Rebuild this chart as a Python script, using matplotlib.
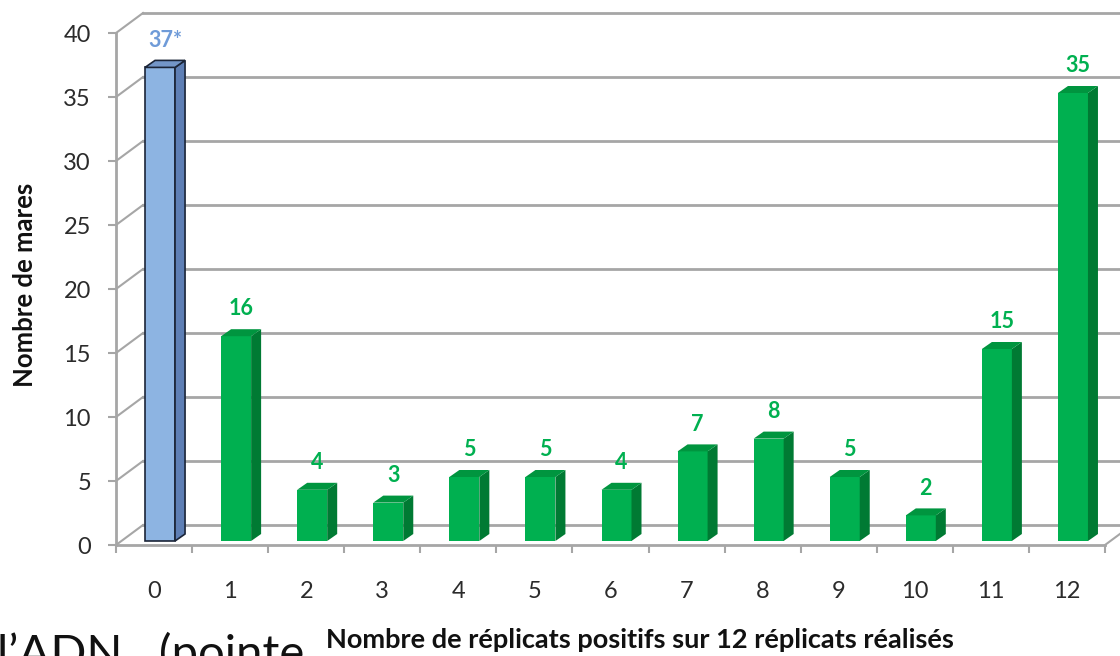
import matplotlib
matplotlib.use("Agg")
import matplotlib.pyplot as plt
from matplotlib.patches import Polygon

plt.rcParams['font.family'] = ['Lato', 'DejaVu Sans']

# data
categories = ['0', '1', '2', '3', '4', '5', '6', '7', '8', '9', '10', '11', '12']
values = [37, 16, 4, 3, 5, 5, 4, 7, 8, 5, 2, 15, 35]
value_labels = ['37*', '16', '4', '3', '5', '5', '4', '7', '8', '5', '2', '15', '35']
yticks = [0, 5, 10, 15, 20, 25, 30, 35, 40]

W, H = 1120, 656
fig = plt.figure(figsize=(W / 100, H / 100), dpi=100)
# front frame of the "3D" plot in pixels
x0, x1, y0, y1 = 116, 1105, 545, 33
ax = fig.add_axes([x0 / W, 1 - y0 / H, (x1 - x0) / W, (y0 - y1) / H])
n = len(categories)
ax.set_xlim(-0.5, n - 0.5)
ax.set_ylim(0, 40)

# pixel -> data unit helpers
px_x = n / (x1 - x0)
px_y = 40 / (y0 - y1)

wall_dx, wall_dy = 27 * px_x, 20 * px_y      # back wall offset
bar_dx, bar_dy = 6 * px_x, 4 * px_y          # bar front offset
dep_dx, dep_dy = 10 * px_x, 7 * px_y         # bar depth
bw = 30 * px_x

grid_c = '#A6A6A6'
for s in ax.spines.values():
    s.set_visible(False)

# back wall gridlines and side wall diagonals
for v in yticks:
    ax.plot([-0.5 + wall_dx, n - 0.5 + wall_dx + 1], [v + wall_dy, v + wall_dy],
            color=grid_c, lw=2, clip_on=False, zorder=1)
    ax.plot([-0.5, -0.5 + wall_dx], [v, v + wall_dy], color=grid_c, lw=1.5,
            clip_on=False, zorder=1)
# front axes
ax.plot([-0.5, -0.5], [0, 40], color=grid_c, lw=2, clip_on=False, zorder=2)
ax.plot([-0.5, n - 0.5], [0, 0], color=grid_c, lw=2, clip_on=False, zorder=2)
ax.plot([n - 0.5, n - 0.5 + wall_dx], [0, wall_dy], color=grid_c, lw=1.5,
        clip_on=False, zorder=2)

# bars
for i, v in enumerate(values):
    if i == 0:
        front, side, top, ec, lw = '#8DB4E2', '#5E7FB5', '#7396C8', '#1B2538', 1.2
        lab_c = '#6F9BD8'
    else:
        front, side, top, ec, lw = '#00B050', '#007A33', '#00953F', 'none', 0
        lab_c = '#00B050'
    xl = i + bar_dx - bw / 2
    xr = i + bar_dx + bw / 2
    yb = bar_dy
    yt = bar_dy + v
    ax.add_patch(Polygon([(xl, yb), (xr, yb), (xr, yt), (xl, yt)], closed=True,
                         facecolor=front, edgecolor=ec, lw=lw, zorder=3))
    ax.add_patch(Polygon([(xr, yb), (xr + dep_dx, yb + dep_dy), (xr + dep_dx, yt + dep_dy),
                          (xr, yt)], closed=True, facecolor=side, edgecolor=ec, lw=lw, zorder=3))
    ax.add_patch(Polygon([(xl, yt), (xr, yt), (xr + dep_dx, yt + dep_dy),
                          (xl + dep_dx, yt + dep_dy)], closed=True, facecolor=top,
                         edgecolor=ec, lw=lw, zorder=3))
    ax.annotate(value_labels[i], (i + bar_dx + dep_dx / 2, yt + dep_dy),
                xytext=(0, 7), textcoords='offset points', ha='center', va='bottom',
                color=lab_c, fontsize=15.5, fontweight='bold', zorder=4,
                annotation_clip=False)

# ticks
ax.set_yticks(yticks)
ax.tick_params(axis='y', length=6, width=1.5, color=grid_c, pad=12,
               labelsize=17, labelcolor='#2b2b2b')
ax.set_xticks([i - 0.5 for i in range(n + 1)])
ax.set_xticklabels([])
ax.set_xticks(range(n), minor=True)
ax.set_xticklabels(categories, minor=True)
ax.tick_params(axis='x', which='major', length=6, width=1.5, color=grid_c, direction='out')
ax.tick_params(axis='x', which='minor', length=0, pad=26, labelsize=17, labelcolor='#2b2b2b')

fig.text(25 / W, 1 - 285 / H, 'Nombre de mares', rotation=90, ha='center', va='center',
         fontsize=18.5, fontweight='bold', color='#111111')
fig.text(640 / W, 1 - 640 / H, 'Nombre de réplicats positifs sur 12 réplicats réalisés',
         ha='center', va='center', fontsize=19.5, fontweight='bold', color='#111111')
fig.text(-3 / W, 1 - 668 / H, 'l’ADN   (pointe', ha='left', va='baseline', fontsize=34,
         color='#111111')

fig.savefig('out.png', dpi=100)
